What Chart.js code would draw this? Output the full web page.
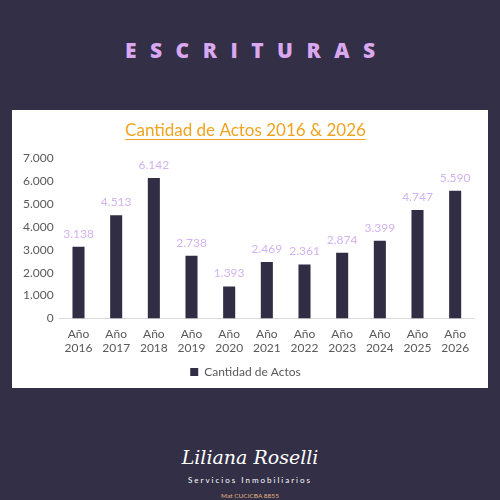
<!DOCTYPE html>
<html>
<head>
<meta charset="utf-8">
<script src="https://cdn.jsdelivr.net/npm/chart.js@4"></script>
<style>
    html, body { margin: 0; padding: 0; }
    body {
        width: 500px;
        height: 500px;
        background: #322f46;
        position: relative;
        overflow: hidden;
        font-family: Lato, "Open Sans", sans-serif;
    }
    #heading {
        position: absolute;
        top: 36px;
        left: 0;
        width: 500px;
        text-align: center;
        color: #d9a8f0;
        font-family: "Open Sans", sans-serif;
        font-weight: 800;
        font-size: 21px;
        letter-spacing: 13.5px;
        text-indent: 13.5px;
    }
    #panel {
        position: absolute;
        left: 12px;
        top: 110px;
        width: 476px;
        height: 278px;
        background: #ffffff;
    }
    #signature {
        position: absolute;
        top: 446px;
        left: 0;
        width: 500px;
        text-align: center;
        color: #ffffff;
        font-family: "DejaVu Serif", serif;
        font-style: italic;
        font-size: 19px;
    }
    #services {
        position: absolute;
        top: 475px;
        left: 0;
        width: 500px;
        text-align: center;
        color: #ffffff;
        font-size: 8px;
        letter-spacing: 2px;
    }
    #mat {
        position: absolute;
        top: 492px;
        left: 0;
        width: 500px;
        text-align: center;
        color: #e3b57e;
        font-size: 6.5px;
    }
</style>
</head>
<body>
<div id="heading">ESCRITURAS</div>
<div id="panel"><canvas id="actosChart" width="476" height="278"></canvas></div>
<div id="signature">Liliana Roselli</div>
<div id="services">Servicios Inmobiliarios</div>
<div id="mat">Mat CUCICBA 8855</div>

<script>
const years = ["2016", "2017", "2018", "2019", "2020", "2021", "2022", "2023", "2024", "2025", "2026"];
const actos = [3138, 4513, 6142, 2738, 1393, 2469, 2361, 2874, 3399, 4747, 5590];
const yTicks = [0, 1000, 2000, 3000, 4000, 5000, 6000, 7000];

const fmt = (v) => v.toLocaleString("de-DE");

// etiquetas encima de cada barra
const valueLabels = {
    id: "valueLabels",
    afterDatasetsDraw(chart) {
        const { ctx } = chart;
        const meta = chart.getDatasetMeta(0);
        ctx.save();
        ctx.font = "12px Lato";
        ctx.fillStyle = "#d3b3f0";
        ctx.textAlign = "center";
        ctx.textBaseline = "middle";
        meta.data.forEach((bar, i) => {
            ctx.fillText(fmt(actos[i]), bar.x, bar.y - 13);
        });
        ctx.restore();
    },
};

// subrayado del titulo
const titleUnderline = {
    id: "titleUnderline",
    afterDraw(chart) {
        const { ctx } = chart;
        const t = chart.titleBlock;
        ctx.save();
        ctx.font = "17px Lato";
        const w = ctx.measureText(t.options.text).width;
        const cx = (t.left + t.right) / 2;
        const y = 29;
        ctx.strokeStyle = "#f0a31f";
        ctx.lineWidth = 1;
        ctx.beginPath();
        ctx.moveTo(cx - w / 2, y + 0.5);
        ctx.lineTo(cx + w / 2, y + 0.5);
        ctx.stroke();
        ctx.restore();
    },
};

const ctx = document.getElementById("actosChart").getContext("2d");

const actosChart = new Chart(ctx, {
    type: "bar",
    data: {
        labels: years.map((y) => ["Año", y]),
        datasets: [
            {
                label: "Cantidad de Actos",
                data: actos,
                backgroundColor: "#302d44",
                barPercentage: 0.32,
                categoryPercentage: 1,
            },
        ],
    },
    options: {
        responsive: false,
        animation: false,
        layout: { padding: { left: 5, right: 14, top: 0, bottom: 0 } },
        plugins: {
            title: {
                display: true,
                text: "Cantidad de Actos 2016 & 2026",
                color: "#f0a31f",
                font: { family: "Lato", size: 17, weight: "normal" },
                padding: { top: 10, bottom: 18 },
            },
            legend: {
                position: "bottom",
                labels: {
                    boxWidth: 8,
                    boxHeight: 8,
                    color: "#595959",
                    font: { family: "Lato", size: 12 },
                    padding: 2,
                },
            },
            tooltip: { enabled: false },
        },
        scales: {
            x: {
                grid: { display: false, drawTicks: false },
                border: { color: "#d9d9d9" },
                ticks: {
                    color: "#595959",
                    font: { family: "Lato", size: 12, lineHeight: 1.15 },
                    maxRotation: 0,
                    padding: 9,
                },
            },
            y: {
                min: 0,
                max: 7000,
                afterBuildTicks: (axis) => {
                    axis.ticks = yTicks.map((v) => ({ value: v }));
                },
                grid: { display: false, drawTicks: false },
                border: { display: false },
                ticks: {
                    color: "#595959",
                    font: { family: "Lato", size: 12 },
                    padding: 6,
                    callback: (v) => fmt(v),
                },
            },
        },
    },
    plugins: [valueLabels, titleUnderline],
});
</script>
</body>
</html>
